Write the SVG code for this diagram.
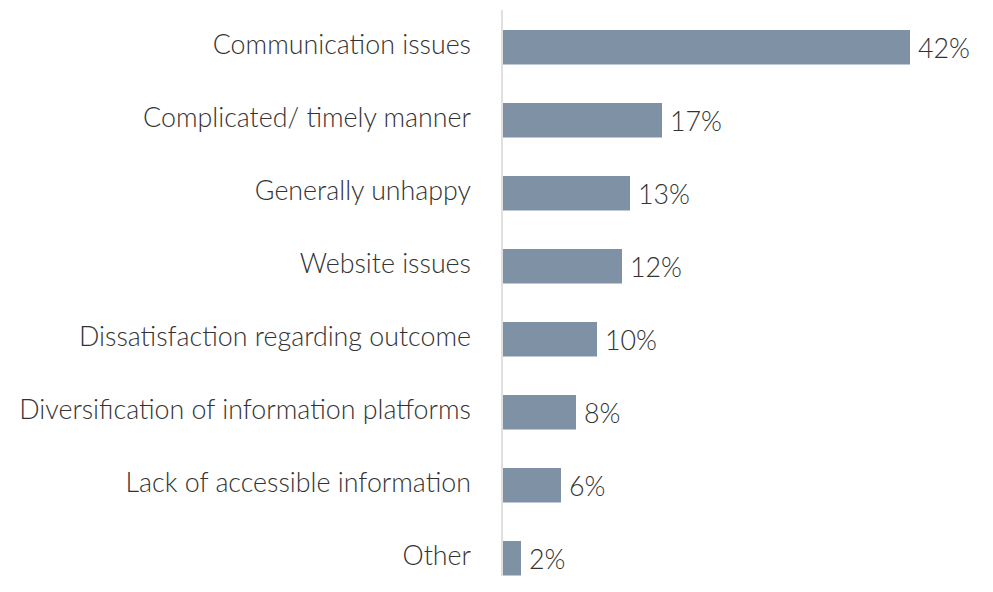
<svg xmlns="http://www.w3.org/2000/svg" width="993" height="592" viewBox="0 0 993 592">
<style>
.lbl{font-family:Lato,"Open Sans","Liberation Sans",sans-serif;font-weight:300;font-size:26.8px;fill:#333;text-anchor:end}
.val{font-family:Lato,"Open Sans","Liberation Sans",sans-serif;font-weight:300;font-size:26.8px;fill:#333}
.bar{fill:#7f91a5}
</style>
<rect width="993" height="592" fill="#fff"/>
<line x1="502" y1="10" x2="502" y2="576" stroke="#e0e0e0" stroke-width="2"/>
<g id="r1"><text class="lbl" x="471" y="54">Communication issues</text><rect class="bar" x="503" y="30" width="407" height="34.5"/><text class="val" x="918" y="58">42%</text></g>
<g id="r2"><text class="lbl" x="471" y="127">Complicated/ timely manner</text><rect class="bar" x="503" y="103" width="159" height="34.5"/><text class="val" x="670" y="131">17%</text></g>
<g id="r3"><text class="lbl" x="471" y="200">Generally unhappy</text><rect class="bar" x="503" y="176" width="127" height="34.5"/><text class="val" x="638" y="204">13%</text></g>
<g id="r4"><text class="lbl" x="471" y="273">Website issues</text><rect class="bar" x="503" y="249" width="119" height="34.5"/><text class="val" x="630" y="277">12%</text></g>
<g id="r5"><text class="lbl" x="471" y="346">Dissatisfaction regarding outcome</text><rect class="bar" x="503" y="322" width="94" height="34.5"/><text class="val" x="605" y="350">10%</text></g>
<g id="r6"><text class="lbl" x="471" y="419">Diversification of information platforms</text><rect class="bar" x="503" y="395" width="73" height="34.5"/><text class="val" x="584" y="423">8%</text></g>
<g id="r7"><text class="lbl" x="471" y="492">Lack of accessible information</text><rect class="bar" x="503" y="468" width="58" height="34.5"/><text class="val" x="569" y="496">6%</text></g>
<g id="r8"><text class="lbl" x="471" y="565">Other</text><rect class="bar" x="503" y="541" width="18" height="34.5"/><text class="val" x="529" y="569">2%</text></g>
</svg>
